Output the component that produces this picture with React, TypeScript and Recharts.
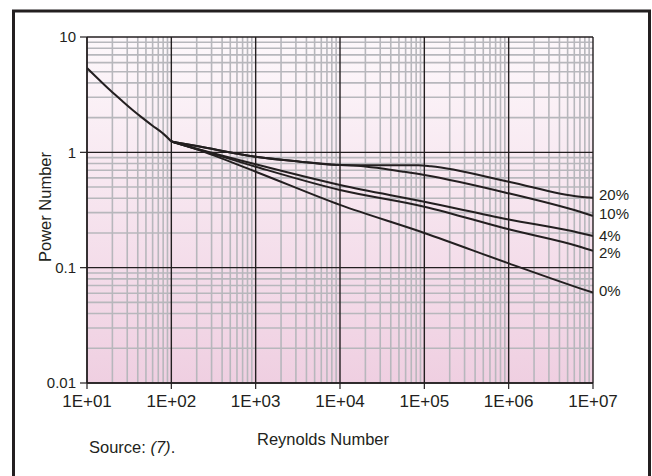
import React from "react";
import { LineChart, Line, XAxis, YAxis, CartesianGrid } from "recharts";

// Shared laminar segment (all curves coincide up to Re = 100)
const commonRe = [10, 14, 18.7, 26, 35, 47, 61, 80, 100];
const commonNp = [5.38, 4.24, 3.47, 2.8, 2.32, 1.95, 1.685, 1.453, 1.24];

// Per-curve (% gas/solids) values from Re = 100 on
const re0 = [100, 200, 1000, 1e4, 1e5, 1e6, 7e6, 1e7];
const np0 = [1.24, 1.06, 0.679, 0.35, 0.2, 0.109, 0.0662, 0.0607];

const re2 = [100, 200, 1000, 1e4, 1e5, 1e6, 7e6, 1e7];
const np2 = [1.24, 1.07, 0.75, 0.471, 0.338, 0.215, 0.152, 0.14];

const re4 = [100, 200, 1000, 1e4, 1e5, 1e6, 7e6, 1e7];
const np4 = [1.24, 1.075, 0.787, 0.521, 0.373, 0.262, 0.2, 0.188];

const re10 = [100, 200, 1000, 3360, 1e4, 1.6e4, 3e4, 5.6e4, 1e5, 1e6, 7e6, 1e7];
const np10 = [1.24, 1.135, 0.916, 0.83, 0.775, 0.766, 0.727, 0.68, 0.636, 0.441, 0.305, 0.281];

const re20 = [100, 200, 1000, 3360, 1e4, 3e4, 8.5e4, 1.2e5, 1e6, 7e6, 1e7];
const np20 = [1.24, 1.135, 0.916, 0.83, 0.775, 0.772, 0.772, 0.757, 0.556, 0.412, 0.404];

const seriesNames = ["20%", "10%", "4%", "2%", "0%"];
const labelShift = [-3, -2, -1, 2, -2];

const xTicks = [10, 100, 1000, 1e4, 1e5, 1e6, 1e7];
const yTicks = [0.01, 0.1, 1, 10];
const yTickLabels = ["0.01", "0.1", "1", "10"];

const build = (re: number[], np: number[]) => re.map((r, i) => ({ re: r, np: np[i] }));

const commonData = build(commonRe, commonNp);
const series = [
  build(re20, np20),
  build(re10, np10),
  build(re4, np4),
  build(re2, np2),
  build(re0, np0),
];

const minorX: number[] = [];
xTicks.slice(0, -1).forEach((d) => {
  for (let k = 2; k <= 9; k++) minorX.push(d * k);
});
const minorY: number[] = [];
yTicks.slice(0, -1).forEach((d) => {
  for (let k = 2; k <= 9; k++) minorY.push(d * k);
});

const FONT = "'Liberation Sans', Arial, Helvetica, sans-serif";
const INK = "#231f20";

const fmtX = (v: number) => {
  const e = Math.round(Math.log10(v));
  return "1E+" + (e < 10 ? "0" + e : String(e));
};
const fmtY = (v: number) => {
  const i = yTicks.findIndex((t) => Math.abs(t - v) / t < 1e-6);
  return i >= 0 ? yTickLabels[i] : String(v);
};

const makeEndLabel = (name: string, count: number, dyShift: number) => (props: any) => {
  const { x, y, index } = props;
  if (index !== count - 1) return null;
  return (
    <text
      key={name}
      x={x + 6}
      y={y + dyShift}
      fontSize={15}
      fontFamily={FONT}
      fill={INK}
      dominantBaseline="central"
    >
      {name}
    </text>
  );
};

export default function App() {
  return (
    <div
      style={{
        position: "absolute",
        left: 0,
        top: 0,
        width: 652,
        height: 476,
        overflow: "hidden",
        background: "#ffffff",
        fontFamily: FONT,
      }}
    >
      <LineChart
        width={652}
        height={476}
        margin={{ top: 37, right: 59, bottom: 63, left: 0 }}
      >
        <defs>
          <linearGradient id="plotBg" x1="0" y1="0" x2="0" y2="1">
            <stop offset="0%" stopColor="#fdf8fb" />
            <stop offset="100%" stopColor="#efcfe1" />
          </linearGradient>
        </defs>
        <CartesianGrid
          fill="url(#plotBg)"
          fillOpacity={1}
          stroke="#b7b7bc"
          strokeWidth={1.6}
          verticalValues={minorX}
          horizontalValues={minorY}
        />
        <CartesianGrid
          stroke={INK}
          strokeWidth={1.4}
          verticalValues={xTicks}
          horizontalValues={yTicks}
        />
        <XAxis
          dataKey="re"
          type="number"
          scale="log"
          domain={[10, 1e7]}
          allowDataOverflow
          ticks={xTicks}
          tickFormatter={fmtX}
          height={30}
          tickSize={6}
          tickMargin={6}
          axisLine={{ stroke: INK, strokeWidth: 1.4 }}
          tickLine={{ stroke: INK, strokeWidth: 1.2 }}
          tick={{ fill: INK, fontSize: 17, fontFamily: FONT }}
          interval={0}
        />
        <YAxis
          dataKey="np"
          type="number"
          scale="log"
          domain={[0.01, 10]}
          allowDataOverflow
          ticks={yTicks}
          tickFormatter={fmtY}
          width={87}
          tickSize={7}
          tickMargin={4}
          axisLine={{ stroke: INK, strokeWidth: 1.4 }}
          tickLine={{ stroke: INK, strokeWidth: 1.2 }}
          tick={{ fill: INK, fontSize: 15, fontFamily: FONT }}
          interval={0}
        />
        <Line
          name="common"
          data={commonData}
          dataKey="np"
          type="natural"
          stroke={INK}
          strokeWidth={2}
          dot={false}
          activeDot={false}
          isAnimationActive={false}
        />
        {series.map((data, i) => (
          <Line
            key={seriesNames[i]}
            name={seriesNames[i]}
            data={data}
            dataKey="np"
            type="monotone"
            stroke={INK}
            strokeWidth={2}
            dot={false}
            activeDot={false}
            isAnimationActive={false}
            label={makeEndLabel(seriesNames[i], data.length, labelShift[i])}
          />
        ))}
      </LineChart>
      <svg
        width={652}
        height={476}
        style={{ position: "absolute", left: 0, top: 0, pointerEvents: "none" }}
      >
        <path
          d="M13.5 480 L13.5 11 L649.5 11 L649.5 480"
          fill="none"
          stroke={INK}
          strokeWidth={3}
        />
        <text
          x={0}
          y={0}
          transform="translate(45 207) rotate(-90)"
          textAnchor="middle"
          dominantBaseline="central"
          fontSize={16.5}
          fontFamily={FONT}
          fill={INK}
        >
          Power Number
        </text>
        <text
          x={323}
          y={445}
          textAnchor="middle"
          fontSize={16.5}
          fontFamily={FONT}
          fill={INK}
        >
          Reynolds Number
        </text>
        <text x={89} y={453} fontSize={16.5} fontFamily={FONT} fill={INK}>
          Source: <tspan fontStyle="italic">(7)</tspan>.
        </text>
      </svg>
    </div>
  );
}
